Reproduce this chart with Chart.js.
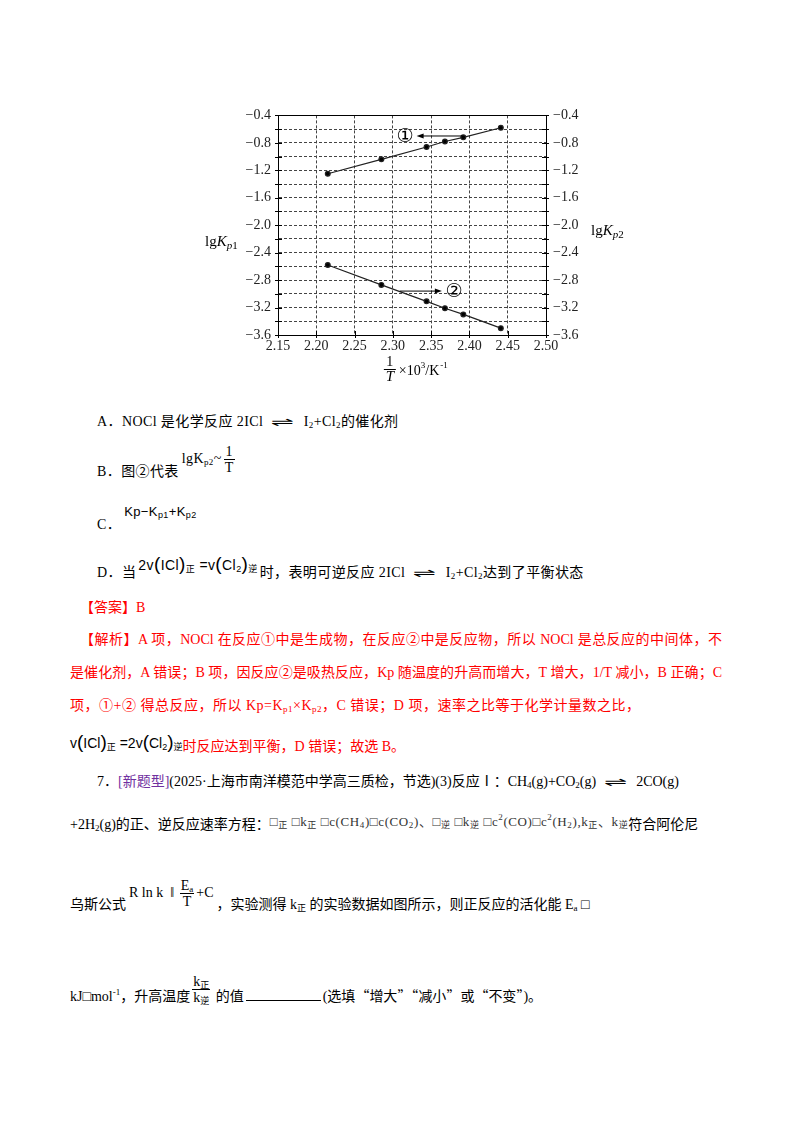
<!DOCTYPE html>
<html lang="zh">
<head>
<meta charset="utf-8">
<title>lgKp - 1/T</title>
<script src="https://cdn.jsdelivr.net/npm/chart.js@4.4.1/dist/chart.umd.min.js"></script>
<style>
  html, body { margin: 0; padding: 0; background: #fff; }
  body { width: 800px; height: 1132px; position: relative; overflow: hidden;
         font-family: "Liberation Serif", "Noto Sans CJK SC", serif; color: #000; }
  #chartBox { position: absolute; left: 190px; top: 100px; width: 450px; height: 290px; }
  .ln { position: absolute; white-space: nowrap; font-size: 14px; line-height: 18px; }
  .opt { letter-spacing: 0.4px; }
  .red { color: #f00; }
  .purple { color: #7030a0; }
  sub { font-size: 9px; vertical-align: -2px; line-height: 0; }
  sup { font-size: 9px; vertical-align: 6px; line-height: 0; }
  .eq { display: inline-block; transform: scaleX(2.3); margin: 0 15px; font-family: "DejaVu Sans"; font-size: 12px; }
  .sans { font-family: "Liberation Sans", "Noto Sans CJK SC", sans-serif; }
  .rise { position: relative; }
  .frac { display: inline-block; vertical-align: middle; text-align: center; line-height: 15px; margin: 0 2px; }
  .frac > span { display: block; padding: 0 1px; }
  .frac > span:first-child { border-bottom: 1px solid #000; }
  .par { font-size: 19px; font-weight: 200; }
  .j { text-align: justify; text-align-last: justify; }
  .sm { font-size: 13px; color: #333; letter-spacing: 0.6px; }
  .cjk { font-family: "Noto Sans CJK SC", sans-serif; }
  .blank { display: inline-block; width: 75px; border-bottom: 1.5px solid #000; height: 12px; margin: 0 2px; }
</style>
</head>
<body>
<div id="chartBox"><canvas id="kpChart"></canvas></div>

<div class="ln opt" style="top:413px;left:97px">A．NOCl 是化学反应 2ICl<span class="eq">⇌</span>I<sub>2</sub>+Cl<sub>2</sub>的催化剂</div>
<div class="ln opt" style="top:457px;left:97px">B．图②代表<span class="rise" style="top:-13px;margin-left:3px">lgK<sub>p2</sub>~<span class="frac"><span>1</span><span>T</span></span></span></div>
<div class="ln opt" style="top:516px;left:97px">C．<span class="rise sans" style="top:-13px;margin-left:3px;font-size:13px">Kp−K<sub>p1</sub>+K<sub>p2</sub></span></div>
<div class="ln opt" style="top:562px;left:97px">D．当<span class="rise sans" style="top:-7px;margin:0 2px">2v<span class="par">(</span>ICl<span class="par">)</span><sub>正</sub> =v<span class="par">(</span>Cl<sub>2</sub><span class="par">)</span><sub>逆</sub></span>时，表明可逆反应 2ICl<span class="eq">⇌</span>I<sub>2</sub>+Cl<sub>2</sub>达到了平衡状态</div>

<div class="ln red" style="top:599px;left:80px">【答案】B</div>
<div class="ln red j" style="top:631px;left:80px;width:642px">【解析】A 项，NOCl 在反应①中是生成物，在反应②中是反应物，所以 NOCl 是总反应的中间体，不</div>
<div class="ln red j" style="top:664px;left:70px;width:652px">是催化剂，A 错误；B 项，因反应②是吸热反应，Kp 随温度的升高而增大，T 增大，1/T 减小，B 正确；C</div>
<div class="ln red" style="top:697px;left:70px;letter-spacing:0.5px">项，①+② 得总反应，所以 Kp=K<sub>p1</sub>×K<sub>p2</sub>，C 错误；D 项，速率之比等于化学计量数之比，</div>
<div class="ln" style="top:736px;left:70px"><span class="rise sans" style="top:-3px;font-size:14px">v<span class="par">(</span>ICl<span class="par">)</span><sub>正</sub> =2v<span class="par">(</span>Cl<sub>2</sub><span class="par">)</span><sub>逆</sub></span><span class="red">时反应达到平衡，D 错误；故选 B。</span></div>

<div class="ln" style="top:773px;left:97px">7．<span class="purple">[新题型]</span>(2025·上海市南洋模范中学高三质检，节选)(3)反应Ⅰ：CH<sub>4</sub>(g)+CO<sub>2</sub>(g)<span class="eq">⇌</span>2CO(g)</div>
<div class="ln" style="top:816px;left:70px">+2H<sub>2</sub>(g)的正、逆反应速率方程：<span class="rise sm" style="top:-3px">□<sub>正</sub> □k<sub>正</sub> □c(CH<sub>4</sub>)□c(CO<sub>2</sub>)、□<sub>逆</sub> □k<sub>逆</sub> □c<sup>2</sup>(CO)□c<sup>2</sup>(H<sub>2</sub>),k<sub>正</sub>、k<sub>逆</sub></span>符合阿伦尼</div>
<div class="ln" style="top:890px;left:70px">乌斯公式<span class="rise" style="top:-12px;margin:0 3px">R ln k &nbsp;‖ <span class="frac"><span>E<sub>a</sub></span><span>T</span></span>+C</span>，实验测得 k<sub>正</sub> 的实验数据如图所示，则正反应的活化能 E<sub>a</sub> □</div>
<div class="ln" style="top:982px;left:70px">kJ□mol<sup>-1</sup>，升高温度<span class="frac" style="position:relative;top:-8px"><span>k<sub>正</sub></span><span style="border:0">k<sub>逆</sub></span></span> 的值<span class="blank"></span>(选填<span class="cjk">“</span>增大<span class="cjk">”“</span>减小<span class="cjk">”</span>或<span class="cjk">“</span>不变<span class="cjk">”</span>)。</div>

<script>
// data (x = 1/T x 10^3 K^-1)
const invT = [2.215, 2.285, 2.344, 2.368, 2.392, 2.441];
const lgKp1 = [-1.25, -1.04, -0.86, -0.78, -0.72, -0.58];
const lgKp2 = [-2.58, -2.87, -3.11, -3.21, -3.30, -3.50];

const xTickValues = [2.15, 2.20, 2.25, 2.30, 2.35, 2.40, 2.45, 2.50];
const xTickLabels = ['2.15', '2.20', '2.25', '2.30', '2.35', '2.40', '2.45', '2.50'];
const yGridValues = [-3.6, -3.4, -3.2, -3.0, -2.8, -2.6, -2.4, -2.2, -2.0, -1.8, -1.6, -1.4, -1.2, -1.0, -0.8, -0.6, -0.4];
const yTickLabels = ['−3.6', '', '−3.2', '', '−2.8', '', '−2.4', '', '−2.0', '', '−1.6', '', '−1.2', '', '−0.8', '', '−0.4'];

// arrows pointing from each line to its label: [fromX, fromY, toX, toY, labelX, labelY, label]
const arrow1 = [2.392, -0.70, 2.331, -0.70, 2.316, -0.70, '①'];
const arrow2 = [2.309, -2.96, 2.364, -2.96, 2.380, -2.96, '②'];

const serif = '"Liberation Serif", "DejaVu Serif", serif';

function pts(xs, ys) {
    return xs.map((x, i) => ({ x: x, y: ys[i] }));
}

function yAxis(pos, width) {
    return {
        type: 'linear',
        position: pos,
        min: -3.6,
        max: -0.4,
        afterBuildTicks: (s) => { s.ticks = yGridValues.map(v => ({ value: v })); },
        afterFit: (s) => { s.width = width; },
        grid: { display: pos === 'left', color: '#444', lineWidth: 1, drawTicks: false },
        border: { display: true, color: '#000', width: 1, dash: [3, 2] },
        ticks: {
            autoSkip: false,
            padding: 7,
            color: '#222',
            font: { family: serif, size: 14 },
            callback: (v, i) => yTickLabels[i]
        }
    };
}

function drawArrow(ctx, sx, sy, x1, y1, x2, y2) {
    const a = sx.getPixelForValue(x1), b = sy.getPixelForValue(y1);
    const c = sx.getPixelForValue(x2), d = sy.getPixelForValue(y2);
    const dir = c > a ? 1 : -1;
    ctx.beginPath();
    ctx.moveTo(a, b);
    ctx.lineTo(c - dir * 5, d);
    ctx.stroke();
    ctx.beginPath();
    ctx.moveTo(c, d);
    ctx.lineTo(c - dir * 7, d - 2.5);
    ctx.lineTo(c - dir * 7, d + 2.5);
    ctx.closePath();
    ctx.fill();
}

const decor = {
    id: 'decor',
    afterDraw(chart) {
        const ctx = chart.ctx;
        const ca = chart.chartArea;
        const sx = chart.scales.x, sy = chart.scales.y;
        ctx.save();
        ctx.strokeStyle = '#000';
        ctx.fillStyle = '#000';
        ctx.lineWidth = 1;
        ctx.setLineDash([]);

        // plot frame
        ctx.strokeRect(Math.round(ca.left) + 0.5, Math.round(ca.top) + 0.5,
            Math.round(ca.right - ca.left), Math.round(ca.bottom - ca.top));

        // short tick marks across both y axes and the x axis
        ctx.beginPath();
        yGridValues.forEach(v => {
            const p = Math.round(sy.getPixelForValue(v)) + 0.5;
            ctx.moveTo(ca.left - 3, p); ctx.lineTo(ca.left + 4, p);
            ctx.moveTo(ca.right - 4, p); ctx.lineTo(ca.right + 3, p);
        });
        xTickValues.forEach(v => {
            const p = Math.round(sx.getPixelForValue(v)) + 0.5;
            ctx.moveTo(p, ca.bottom - 4); ctx.lineTo(p, ca.bottom + 3);
        });
        ctx.stroke();

        // axis titles
        ctx.textBaseline = 'middle';
        ctx.textAlign = 'left';
        const title = (x, y, sub) => {
            ctx.font = '15px ' + serif;
            ctx.fillText('lg', x, y);
            let w = ctx.measureText('lg').width;
            ctx.font = 'italic 15px ' + serif;
            ctx.fillText('K', x + w, y);
            w += ctx.measureText('K').width;
            ctx.font = 'italic 11px ' + serif;
            ctx.fillText('p', x + w, y + 4);
            w += ctx.measureText('p').width;
            ctx.font = '11px ' + serif;
            ctx.fillText(sub, x + w, y + 4);
        };
        title(ca.left - 73, sy.getPixelForValue(-2.24), '1');
        title(ca.right + 45, sy.getPixelForValue(-2.08), '2');

        // x title: 1/T x 10^3/K^-1
        const fx = sx.getPixelForValue(2.3) - 3;
        const by = ca.bottom + 34;
        ctx.textAlign = 'center';
        ctx.font = '14px ' + serif;
        ctx.fillText('1', fx, by - 7);
        ctx.font = 'italic 15px ' + serif;
        ctx.fillText('T', fx, by + 8);
        ctx.beginPath();
        ctx.moveTo(fx - 6, by + 0.5); ctx.lineTo(fx + 6, by + 0.5);
        ctx.stroke();
        ctx.textAlign = 'left';
        ctx.font = '14px ' + serif;
        let tx = fx + 9;
        ctx.fillText('×10', tx, by + 2);
        tx += ctx.measureText('×10').width;
        ctx.font = '9px ' + serif;
        ctx.fillText('3', tx, by - 3);
        tx += ctx.measureText('3').width;
        ctx.font = '14px ' + serif;
        ctx.fillText('/K', tx, by + 2);
        tx += ctx.measureText('/K').width;
        ctx.font = '9px ' + serif;
        ctx.fillText('-1', tx + 1, by - 3);

        // annotation arrows and circled labels
        [arrow1, arrow2].forEach(a => {
            drawArrow(ctx, sx, sy, a[0], a[1], a[2], a[3]);
            ctx.textAlign = 'center';
            ctx.font = '19px "DejaVu Sans", "Noto Sans CJK SC", sans-serif';
            ctx.fillText(a[6], sx.getPixelForValue(a[4]), sy.getPixelForValue(a[5]) + 1);
        });
        ctx.restore();
    }
};

const kpChart = new Chart(document.getElementById('kpChart'), {
    type: 'scatter',
    data: {
        datasets: [{
            label: 'lgKp1',
            data: pts(invT, lgKp1),
            yAxisID: 'y',
            showLine: true,
            borderColor: '#222',
            backgroundColor: '#000',
            borderWidth: 1.2,
            pointRadius: 2.4,
            pointHoverRadius: 2.4
        }, {
            label: 'lgKp2',
            data: pts(invT, lgKp2),
            yAxisID: 'y2',
            showLine: true,
            borderColor: '#222',
            backgroundColor: '#000',
            borderWidth: 1.2,
            pointRadius: 2.4,
            pointHoverRadius: 2.4
        }]
    },
    options: {
        responsive: true,
        maintainAspectRatio: false,
        animation: false,
        events: [],
        layout: { padding: { top: 14, left: 0, right: 0, bottom: 0 } },
        plugins: { legend: { display: false }, tooltip: { enabled: false } },
        scales: {
            x: {
                type: 'linear',
                min: 2.15,
                max: 2.5,
                afterBuildTicks: (s) => { s.ticks = xTickValues.map(v => ({ value: v })); },
                afterFit: (s) => { s.height = 55; },
                grid: { color: '#444', lineWidth: 1, drawTicks: false },
                border: { display: true, color: '#000', width: 1, dash: [3, 2] },
                ticks: {
                    autoSkip: false,
                    maxRotation: 0,
                    padding: 3,
                    color: '#222',
                    font: { family: serif, size: 14 },
                    callback: (v, i) => xTickLabels[i]
                }
            },
            y: yAxis('left', 88),
            y2: yAxis('right', 94)
        }
    },
    plugins: [decor]
});
</script>
</body>
</html>
